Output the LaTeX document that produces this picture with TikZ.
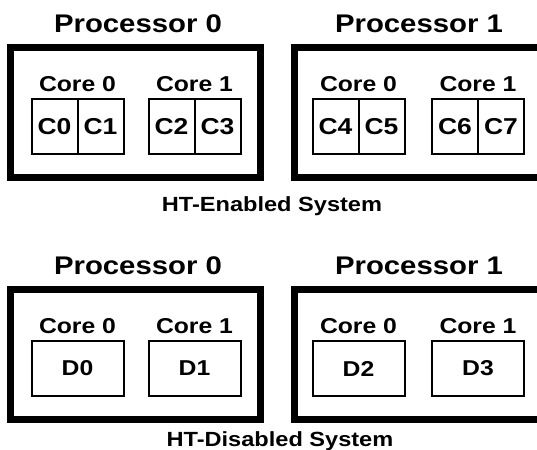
\documentclass[tikz,border=0pt]{standalone}
\usepackage{fontspec}
\newfontfamily\diagfont[FakeStretch=1.15]{Liberation Sans}
\begin{document}
\begin{tikzpicture}[x=1bp,y=-1bp,
  every node/.style={inner sep=0pt, outer sep=0pt, text=black},
  proctitle/.style={anchor=base, font=\diagfont\bfseries\fontsize{25.5bp}{30bp}\selectfont},
  corelabel/.style={anchor=base, font=\diagfont\bfseries\fontsize{21.5bp}{25bp}\selectfont},
  systitle/.style={anchor=base, font=\diagfont\bfseries\fontsize{20.5bp}{24bp}\selectfont},
  procbox/.style={draw, line width=7bp, minimum width=250bp, minimum height=130bp},
  cpu/.style={draw, line width=2bp, minimum width=46bp, minimum height=55bp,
    font=\diagfont\bfseries\fontsize{23bp}{27bp}\selectfont},
  corebox/.style={draw, line width=2bp, minimum width=92bp, minimum height=55bp,
    font=\diagfont\bfseries\fontsize{21.5bp}{25bp}\selectfont}
]
\useasboundingbox (0,0) rectangle (537,450);
\clip (0,0) rectangle (537,450);
\fill[white] (0,0) rectangle (537,450);

% ---------- HT-enabled system ----------
\node[procbox] (ep0) at (135.5,113) {};
\node[procbox] (ep1) at (419.5,113) {};
\node[proctitle] (ep0t) at (138,33) {Processor 0};
\node[proctitle] (ep1t) at (419,33) {Processor 1};

\node[corelabel] (ep0c0t) at (77.5,92) {Core 0};
\node[corelabel] (ep0c1t) at (194.5,92) {Core 1};
\node[corelabel] (ep1c0t) at (358.5,92) {Core 0};
\node[corelabel] (ep1c1t) at (478,92) {Core 1};

\node[cpu] (c0) at (54.5,127) {C0};
\node[cpu] (c1) at (100.5,127) {C1};
\node[cpu] (c2) at (171.5,127) {C2};
\node[cpu] (c3) at (217.5,127) {C3};
\node[cpu] (c4) at (335.5,127) {C4};
\node[cpu] (c5) at (381.5,127) {C5};
\node[cpu] (c6) at (455,127) {C6};
\node[cpu] (c7) at (501,127) {C7};

\node[systitle] (ht-on) at (272,212) {HT-Enabled System};

% ---------- HT-disabled system ----------
\node[procbox] (dp0) at (135.5,354.5) {};
\node[procbox] (dp1) at (419.5,354.5) {};
\node[proctitle] (dp0t) at (138,274.5) {Processor 0};
\node[proctitle] (dp1t) at (419,274.5) {Processor 1};

\node[corelabel] (dp0c0t) at (77.5,333.5) {Core 0};
\node[corelabel] (dp0c1t) at (194.5,333.5) {Core 1};
\node[corelabel] (dp1c0t) at (358.5,333.5) {Core 0};
\node[corelabel] (dp1c1t) at (478,333.5) {Core 1};

\node[corebox] (d0) at (77.5,368.5) {D0};
\node[corebox] (d1) at (194.5,368.5) {D1};
\node[corebox] (d2) at (358.5,368.5) {D2};
\node[corebox] (d3) at (478,368.5) {D3};

\node[systitle] (ht-off) at (280,446) {HT-Disabled System};
\end{tikzpicture}
\end{document}
